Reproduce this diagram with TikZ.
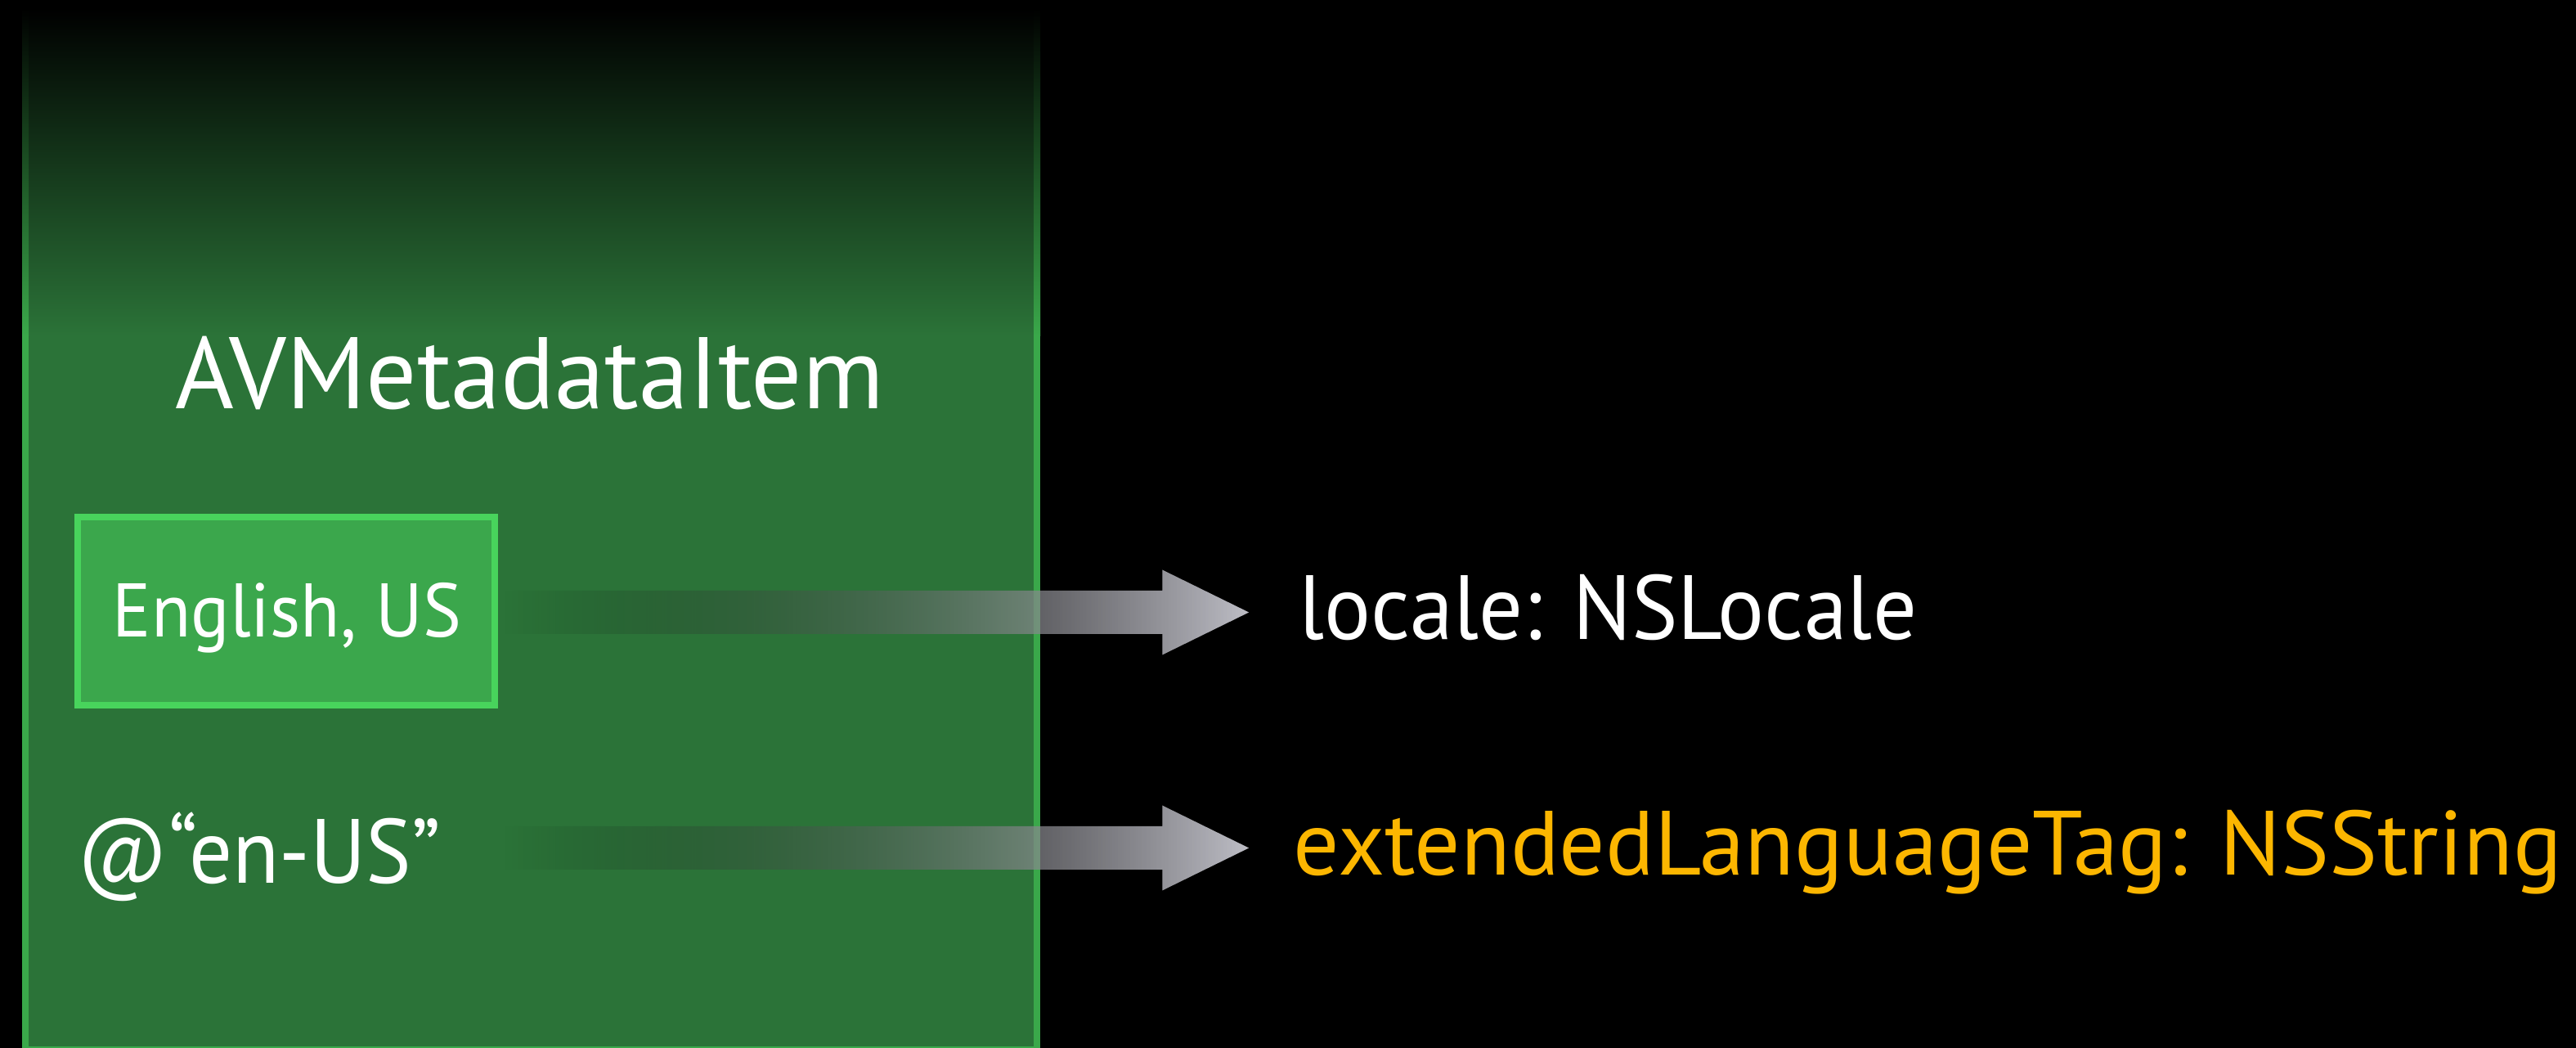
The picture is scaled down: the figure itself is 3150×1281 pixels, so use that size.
\documentclass[tikz,border=0pt]{standalone}
\usepackage{fontspec}
\setmainfont{PT Sans}
\usetikzlibrary{calc,fadings}

\definecolor{panelgreen}{RGB}{43,115,56}
\definecolor{panelrim}{RGB}{58,168,74}
\definecolor{tagfill}{RGB}{59,167,76}
\definecolor{tagrim}{RGB}{72,212,92}
\definecolor{propgold}{RGB}{252,182,0}
\definecolor{arrowlight}{RGB}{190,190,198}

% arrows fade in from the left
\tikzfading[name=arrowfade, left color=transparent!100, right color=transparent!0]

% text set at a given size, stretched to a given width
\newcommand\fittext[3]{\resizebox{#1pt}{\height}{\fontsize{#2pt}{#2pt}\selectfont #3}}

% broad block arrow from coordinate #1 to tip coordinate #2
\newcommand\blockarrow[2]{%
  \path[arrowbody] ($(#1)+(0,-26.5)$) -- ($(#2)+(-106,-26.5)$) -- ($(#2)+(-106,-52)$)
    -- (#2) -- ($(#2)+(-106,52)$) -- ($(#2)+(-106,26.5)$) -- ($(#1)+(0,26.5)$) -- cycle;}

\tikzset{
  label/.style={inner sep=0pt, outer sep=0pt, anchor=base},
  tagbox/.style={draw=tagrim, fill=tagfill, line width=8pt, minimum width=510pt,
    minimum height=230pt, inner sep=0pt},
  arrowbody/.style={left color=black, right color=arrowlight, path fading=arrowfade},
}

\begin{document}
\begin{tikzpicture}[x=1pt, y=-1pt]
  % backdrop
  \fill[black] (0,0) rectangle (3150,1281);
  \useasboundingbox (0,0) rectangle (3150,1281);

  % class panel, darkening towards the top
  \fill[panelgreen] (27,410) rectangle (1272,1290);
  \shade[top color=black, bottom color=panelgreen] (27,10) rectangle (1272,410.5);
  \fill[panelrim] (27,410) rectangle (35,1290);
  \fill[panelrim] (1264,410) rectangle (1272,1290);
  \shade[top color=black, bottom color=panelrim] (27,10) rectangle (35,410.5);
  \shade[top color=black, bottom color=panelrim] (1264,10) rectangle (1272,410.5);
  \fill[panelrim] (27,1279) rectangle (1272,1290);

  % panel contents
  \node[label, text=white] (title) at (647.5,499) {\fittext{867}{124.3}{AVMetadataItem}};
  \node[tagbox] (eng) at (350,747) {};
  \node[label, text=white] (engtext) at (351,778) {\fittext{426}{92.9}{English, US}};
  \node[label, text=white] (tag) at (317,1079) {\fittext{444}{111.4}{@“en-US”}};

  % properties
  \node[label, text=white] (loc) at (1966,781) {\fittext{756}{111.4}{locale: NSLocale}};
  \node[label, text=propgold] (ext) at (2357.5,1069) {\fittext{1551}{111.4}{extendedLanguageTag: NSString}};

  % connectors
  \coordinate (a1s) at ([xshift=9pt]eng.east |- 0,748.5);
  \coordinate (a1e) at (1528,748.5);
  \coordinate (a2s) at (618,1036.5);
  \coordinate (a2e) at (1528,1036.5);
  \blockarrow{a1s}{a1e}
  \blockarrow{a2s}{a2e}
\end{tikzpicture}
\end{document}
